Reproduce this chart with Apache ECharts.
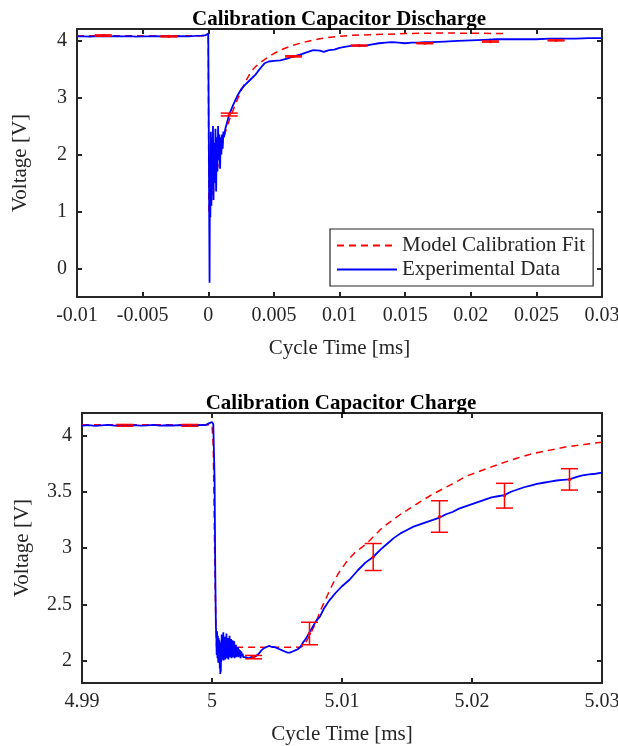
<!DOCTYPE html>
<html>
<head>
<meta charset="utf-8">
<script src="https://cdn.jsdelivr.net/npm/echarts@6/dist/echarts.min.js"></script>
<style>
html,body{margin:0;padding:0;background:#fff;}
#chart{width:618px;height:746px;}
</style>
</head>
<body>
<div id="chart"></div>
<script>
// ---------- Top panel: Calibration Capacitor Discharge ----------
const dischargeExpTime = [
 -0.0100,-0.0095,-0.0090,-0.0085,-0.0080,-0.0075,-0.0070,-0.0065,-0.0060,-0.0055,
 -0.0050,-0.0045,-0.0040,-0.0035,-0.0030,-0.0025,-0.0020,-0.0015,-0.0010,-0.0005,
 -0.0002,0,0.00005,0.0001,0.00013,0.00016,0.0002,0.00024,0.00028,0.00032,
 0.00036,0.0004,0.00045,0.0005,0.00055,0.0006,0.00065,0.0007,0.00075,0.0008,
 0.00085,0.0009,0.00095,0.001,0.00105,0.0011,0.00115,0.0012,0.0013,0.0016,
 0.0019,0.0022,0.0025,0.0028,0.0032,0.0036,0.0040,0.0043,0.0046,0.0050,
 0.0055,0.0060,0.0065,0.0070,0.0075,0.0080,0.0085,0.0088,0.0092,0.0096,
 0.0100,0.0105,0.0110,0.0115,0.0120,0.0125,0.0130,0.0135,0.0140,0.0145,
 0.0150,0.0155,0.0160,0.0165,0.0170,0.0180,0.0190,0.0200,0.0210,0.0220,
 0.0230,0.0240,0.0250,0.0260,0.0270,0.0280,0.0290,0.0300
];
const dischargeExpVolt = [
 4.070,4.072,4.068,4.074,4.071,4.069,4.073,4.070,4.075,4.068,
 4.072,4.070,4.074,4.069,4.073,4.071,4.075,4.072,4.078,4.085,
 4.090,4.120,4.150,-0.25,1.90,0.90,2.40,1.10,2.30,1.40,
 2.50,1.20,2.20,1.50,2.45,1.35,2.30,1.70,2.50,1.90,
 2.35,1.75,2.30,2.00,2.35,2.10,2.40,2.30,2.45,2.70,
 2.87,3.02,3.14,3.22,3.31,3.40,3.52,3.60,3.63,3.64,
 3.65,3.68,3.72,3.75,3.79,3.83,3.82,3.80,3.83,3.84,
 3.87,3.89,3.91,3.91,3.91,3.93,3.95,3.96,3.97,3.96,
 3.95,3.96,3.96,3.97,3.97,3.98,3.99,4.00,4.01,4.02,
 4.02,4.02,4.02,4.03,4.03,4.03,4.04,4.04
];
const dischargeFitTime = [
 -0.0100,0,0.00005,0.0003,0.0006,0.0009,0.0012,0.0016,0.0020,0.0024,
 0.0028,0.0032,0.0036,0.0040,0.0044,0.0050,0.0057,0.0064,0.0070,0.0077,
 0.0085,0.0095,0.0110,0.0125,0.0150,0.0180,0.0227
];
const dischargeFitVolt = [
 4.08,4.08,1.00,1.25,1.65,2.00,2.32,2.60,2.84,3.06,
 3.26,3.43,3.54,3.62,3.68,3.77,3.85,3.91,3.95,3.99,
 4.03,4.06,4.09,4.10,4.12,4.13,4.12
];
const dischargeErrTime = [-0.008,-0.003,0.0016,0.0065,0.0115,0.0165,0.0215,0.0265];
const dischargeErrVolt = [4.085,4.07,2.70,3.72,3.91,3.95,3.98,4.00];
const dischargeErrSize = [0.012,0.008,0.025,0.01,0.008,0.008,0.01,0.008];
const dischargeTicksX = [-0.01,-0.005,0,0.005,0.01,0.015,0.02,0.025,0.03];
const dischargeTicksY = [0,1,2,3,4];

// ---------- Bottom panel: Calibration Capacitor Charge ----------
const chargeExpTime = [
 4.9900,4.9905,4.9910,4.9915,4.9920,4.9925,4.9930,4.9935,4.9940,4.9945,
 4.9950,4.9955,4.9960,4.9965,4.9970,4.9975,4.9980,4.9985,4.9990,4.9995,
 4.9998,5.0000,5.0001,5.0002,5.00025,5.0003,5.00033,5.00036,5.00039,5.00042,
 5.00045,5.00048,5.00051,5.00054,5.00057,5.00060,5.00062,5.00064,5.00066,5.00068,
 5.00070,5.00072,5.00075,5.00078,5.00081,5.00084,5.00087,5.00090,5.00093,5.00096,
 5.00099,5.00102,5.00105,5.00108,5.00111,5.00114,5.00117,5.00120,5.00123,5.00126,
 5.00129,5.00132,5.00135,5.00138,5.00141,5.00144,5.00147,5.00150,5.00153,5.00156,
 5.00159,5.00162,5.00165,5.00168,5.00171,5.00174,5.00177,5.00180,5.00184,5.00188,
 5.00192,5.00196,5.00200,5.00204,5.00208,5.00212,5.00216,5.00220,5.00225,5.00230,
 5.00235,5.00240,5.0026,5.0028,5.0030,5.0032,5.0034,5.0036,5.0038,5.0040,
 5.0042,5.0044,5.0046,5.0048,5.0050,5.0052,5.0054,5.0056,5.0058,5.0060,
 5.0062,5.0064,5.0066,5.0068,5.0070,5.0072,5.0074,5.0076,5.0078,5.0080,
 5.0083,5.0086,5.0090,5.0095,5.0100,5.0106,5.0112,5.0118,5.0124,5.0130,
 5.0135,5.0140,5.0145,5.0150,5.0155,5.0160,5.0165,5.0170,5.0175,5.0180,
 5.0185,5.0190,5.0195,5.0200,5.0205,5.0210,5.0215,5.0220,5.0225,5.0230,
 5.0235,5.0240,5.0245,5.0250,5.0255,5.0260,5.0265,5.0270,5.0275,5.0280,
 5.0285,5.0290,5.0295,5.0300
];
const chargeExpVolt = [
 4.088,4.092,4.086,4.090,4.094,4.087,4.091,4.089,4.093,4.088,
 4.090,4.094,4.087,4.091,4.089,4.093,4.088,4.090,4.094,4.092,
 4.110,4.120,4.100,3.600,2.800,2.300,2.240,2.050,2.260,2.020,
 2.220,1.980,2.200,2.000,2.180,1.930,2.120,1.880,2.100,1.900,
 2.160,1.990,2.230,2.010,2.190,2.030,2.250,2.000,2.170,2.040,
 2.210,2.010,2.180,2.030,2.240,2.020,2.170,2.050,2.200,2.010,
 2.160,2.040,2.220,2.030,2.150,2.050,2.190,2.020,2.140,2.060,
 2.180,2.030,2.150,2.050,2.170,2.020,2.120,2.050,2.140,2.030,
 2.110,2.040,2.120,2.030,2.100,2.050,2.090,2.020,2.080,2.040,
 2.060,2.030,2.030,2.020,2.030,2.030,2.040,2.060,2.090,2.110,
 2.120,2.130,2.120,2.120,2.110,2.100,2.090,2.080,2.070,2.070,
 2.080,2.090,2.100,2.120,2.160,2.190,2.230,2.270,2.310,2.350,
 2.390,2.460,2.530,2.600,2.660,2.720,2.800,2.870,2.920,2.990,
 3.040,3.090,3.130,3.160,3.190,3.210,3.230,3.250,3.270,3.300,
 3.320,3.350,3.370,3.390,3.410,3.430,3.450,3.460,3.470,3.500,
 3.520,3.540,3.555,3.570,3.580,3.590,3.600,3.605,3.610,3.630,
 3.645,3.655,3.660,3.670
];
const chargeFitTime = [
 4.9900,5.0000,5.0001,5.0002,5.0003,5.00035,5.0068,5.0070,5.0072,5.0075,
 5.0078,5.0081,5.0084,5.0088,5.0092,5.0097,5.0103,5.0110,5.0119,5.0131,
 5.0145,5.0160,5.0170,5.0185,5.0196,5.0210,5.0222,5.0235,5.0247,5.0260,
 5.0273,5.0286,5.0300
];
const chargeFitVolt = [
 4.095,4.095,3.90,3.00,2.30,2.118,2.118,2.13,2.16,2.22,
 2.29,2.37,2.46,2.56,2.66,2.77,2.87,2.96,3.04,3.18,
 3.30,3.41,3.48,3.57,3.64,3.70,3.75,3.80,3.84,3.87,
 3.90,3.92,3.94
];
const chargeErrTime = [4.9933,4.9983,5.0032,5.0075,5.0124,5.0175,5.0225,5.0275];
const chargeErrVolt = [4.09,4.09,2.03,2.24,2.92,3.28,3.465,3.61];
const chargeErrSize = [0.008,0.008,0.015,0.10,0.12,0.14,0.11,0.095];
const chargeTicksX = [4.99,5.00,5.01,5.02,5.03];
const chargeTicksY = [2,2.5,3,3.5,4];

// ---------- Labels ----------
const titles = ['Calibration Capacitor Discharge','Calibration Capacitor Charge'];
const xLabel = 'Cycle Time [ms]';
const yLabel = 'Voltage [V]';
const legendNames = ['Model Calibration Fit','Experimental Data'];

// ---------- Build ----------
const FONT = "'Liberation Serif','Times New Roman',serif";
const AX = '#262626';
const zip = (a,b,c) => a.map((v,i)=> c ? [v,b[i],c[i]] : [v,b[i]]);
const fmt = v => String(parseFloat(v.toFixed(6)));

function errRender(params, api){
  const x = api.value(0), y = api.value(1), e = api.value(2);
  const t = api.coord([x, y+e]), b = api.coord([x, y-e]), c = api.coord([x, y]);
  const hw = 8.5;
  const st = {stroke:'#ff0000', lineWidth:1.5};
  return {type:'group', children:[
    {type:'line', shape:{x1:t[0],y1:t[1],x2:b[0],y2:b[1]}, style:st},
    {type:'line', shape:{x1:t[0]-hw,y1:t[1],x2:t[0]+hw,y2:t[1]}, style:st},
    {type:'line', shape:{x1:b[0]-hw,y1:b[1],x2:b[0]+hw,y2:b[1]}, style:st},
    {type:'circle', shape:{cx:c[0],cy:c[1],r:1.6}, style:{fill:'#ff0000'}}
  ]};
}

function mainX(gi, min, max, interval, ticks){
  return {
    type:'value', gridIndex:gi, min:min, max:max, interval:interval, position:'bottom',
    axisLine:{show:true, onZero:false, lineStyle:{color:AX, width:2}},
    axisTick:{show:true, inside:true, length:5, lineStyle:{color:AX, width:2}, customValues:ticks},
    axisLabel:{show:true, color:AX, fontSize:20, fontFamily:FONT, margin:9, formatter:fmt, customValues:ticks, showMinLabel:true, showMaxLabel:true, hideOverlap:false},
    splitLine:{show:false},
    name:xLabel, nameLocation:'middle', nameGap:41,
    nameTextStyle:{color:AX, fontSize:21, fontFamily:FONT}
  };
}
function boxX(gi, min, max, interval, ticks){
  return {
    type:'value', gridIndex:gi, min:min, max:max, interval:interval, position:'top',
    axisLine:{show:true, onZero:false, lineStyle:{color:AX, width:2}},
    axisTick:{show:true, inside:true, length:5, lineStyle:{color:AX, width:2}, customValues:ticks},
    axisLabel:{show:false}, splitLine:{show:false}
  };
}
function mainY(gi, min, max, ticks, gap){
  return {
    type:'value', gridIndex:gi, min:min, max:max, position:'left',
    axisLine:{show:true, onZero:false, lineStyle:{color:AX, width:2}},
    axisTick:{show:true, inside:true, length:5, lineStyle:{color:AX, width:2}, customValues:ticks},
    axisLabel:{show:true, color:AX, fontSize:20, fontFamily:FONT, margin:10, formatter:fmt, customValues:ticks},
    splitLine:{show:false},
    name:yLabel, nameLocation:'middle', nameGap:gap, nameRotate:90,
    nameTextStyle:{color:AX, fontSize:21, fontFamily:FONT}
  };
}
function boxY(gi, min, max, ticks){
  return {
    type:'value', gridIndex:gi, min:min, max:max, position:'right',
    axisLine:{show:true, onZero:false, lineStyle:{color:AX, width:2}},
    axisTick:{show:true, inside:true, length:5, lineStyle:{color:AX, width:2}, customValues:ticks},
    axisLabel:{show:false}, splitLine:{show:false}
  };
}

const chart = echarts.init(document.getElementById('chart'), null, {renderer:'canvas'});
chart.setOption({
  animation:false,
  backgroundColor:'#ffffff',
  textStyle:{fontFamily:FONT},
  title:[
    {text:titles[0], left:334, top:4, textAlign:'center',
     textStyle:{fontFamily:FONT, fontWeight:'bold', fontSize:21, color:'#000'}},
    {text:titles[1], left:336, top:388, textAlign:'center',
     textStyle:{fontFamily:FONT, fontWeight:'bold', fontSize:21, color:'#000'}}
  ],
  legend:{
    data:legendNames, orient:'vertical', left:330, top:229,
    itemWidth:60, itemHeight:14, itemGap:3,
    padding:[6,8,6,6],
    borderColor:AX, borderWidth:1.2, backgroundColor:'#ffffff',
    itemStyle:{opacity:0},
    textStyle:{fontFamily:FONT, fontSize:21, color:AX},
    selectedMode:false
  },
  grid:[
    {left:77, top:29, width:525, height:268, containLabel:false, outerBoundsMode:'none'},
    {left:82, top:413, width:520, height:270, containLabel:false, outerBoundsMode:'none'}
  ],
  xAxis:[
    mainX(0,-0.01,0.03,0.005,dischargeTicksX),
    boxX(0,-0.01,0.03,0.005,dischargeTicksX),
    mainX(1,4.99,5.03,0.01,chargeTicksX),
    boxX(1,4.99,5.03,0.01,chargeTicksX)
  ],
  yAxis:[
    mainY(0,-0.5,4.2,dischargeTicksY,46),
    boxY(0,-0.5,4.2,dischargeTicksY),
    mainY(1,1.8,4.2,chargeTicksY,49),
    boxY(1,1.8,4.2,chargeTicksY)
  ],
  series:[
    {name:legendNames[0], type:'line', xAxisIndex:0, yAxisIndex:0, symbol:'none',
     data:zip(dischargeFitTime,dischargeFitVolt), z:2,
     lineStyle:{color:'#ff0000', width:1.5, type:[7,5]}, itemStyle:{color:'#ff0000'}},
    {name:legendNames[1], type:'line', xAxisIndex:0, yAxisIndex:0, symbol:'none',
     data:zip(dischargeExpTime,dischargeExpVolt), z:3,
     lineStyle:{color:'#0000ff', width:1.8}, itemStyle:{color:'#0000ff'}},
    {name:'discharge error', type:'custom', xAxisIndex:0, yAxisIndex:0, z:4,
     renderItem:errRender, encode:{x:0,y:1}, data:zip(dischargeErrTime,dischargeErrVolt,dischargeErrSize)},
    {name:'charge fit', type:'line', xAxisIndex:2, yAxisIndex:2, symbol:'none',
     data:zip(chargeFitTime,chargeFitVolt), z:2,
     lineStyle:{color:'#ff0000', width:1.5, type:[7,5]}},
    {name:'charge data', type:'line', xAxisIndex:2, yAxisIndex:2, symbol:'none',
     data:zip(chargeExpTime,chargeExpVolt), z:3,
     lineStyle:{color:'#0000ff', width:1.8}},
    {name:'charge error', type:'custom', xAxisIndex:2, yAxisIndex:2, z:4,
     renderItem:errRender, encode:{x:0,y:1}, data:zip(chargeErrTime,chargeErrVolt,chargeErrSize)}
  ]
});
</script>
</body>
</html>
